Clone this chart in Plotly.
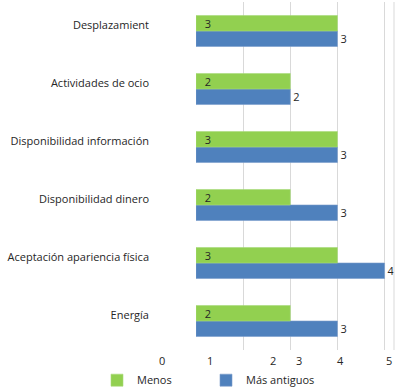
import plotly.graph_objects as go

categories = ["Desplazamient", "Actividades de ocio", "Disponibilidad información",
              "Disponibilidad dinero", "Aceptación apariencia física", "Energía"]
menos = [3, 2, 3, 2, 3, 2]
mas_antiguos = [3, 2, 3, 3, 4, 3]
xtick_labels = ["0", "1", "2", "3", "4", "5"]

# layout-only: where the (misaligned) axis labels sit, in axis units
xtick_label_pos = [-0.83, 0.19, 1.64, 2.19, 3.19, 4.19]
XMAX = 4.2

GREEN = "#92D050"
BLUE = "#4F81BD"
FONT = "Open Sans"
TXT = "#262626"

fig = go.Figure()
fig.add_trace(go.Bar(
    y=categories, x=mas_antiguos, name="Más antiguos", orientation="h",
    marker=dict(color=BLUE, line=dict(color="#7A9CCB", width=0.6)),
    text=mas_antiguos, textposition="outside", constraintext="none", textangle=0,
    textfont=dict(family=FONT, size=11, color=TXT), cliponaxis=False,
))
fig.add_trace(go.Bar(
    y=categories, x=menos, name="Menos", orientation="h",
    marker=dict(color=GREEN, line=dict(color="#A8DA78", width=0.6)),
    text=menos, texttemplate="\u00a0\u00a0%{x}", textposition="inside",
    insidetextanchor="start", constraintext="none",
    textangle=0, textfont=dict(family=FONT, size=11, color=TXT),
))

for lab, pos in zip(xtick_labels, xtick_label_pos):
    fig.add_annotation(x=pos / XMAX, y=0, xref="paper", yref="paper", text=lab,
                       showarrow=False, yanchor="top", yshift=-1,
                       font=dict(family=FONT, size=11, color=TXT))

fig.add_shape(type="line", xref="x domain", yref="y domain", x0=1, x1=1, y0=0, y1=1,
              line=dict(color="#D9D9D9", width=1))

fig.update_layout(
    width=409, height=390,
    margin=dict(l=196, r=15, t=2, b=40, autoexpand=False),
    paper_bgcolor="white", plot_bgcolor="white",
    barmode="group", bargap=0.465, bargroupgap=0,
    font=dict(family=FONT, size=11, color=TXT),
    xaxis=dict(range=[0, XMAX], tickvals=[0, 1, 2, 3, 4], showticklabels=False,
               showgrid=True, gridcolor="#D9D9D9", gridwidth=1, zeroline=False,
               showline=False, fixedrange=True),
    yaxis=dict(categoryorder="array", categoryarray=categories[::-1],
               showgrid=False, zeroline=False, showline=False, automargin=False,
               ticklabelstandoff=46, ticklabelshift=-6,
               tickfont=dict(family=FONT, size=11, color=TXT)),
    legend=dict(orientation="h", traceorder="reversed",
                x=-0.5, xanchor="left", y=-0.045, yanchor="top",
                entrywidth=64, font=dict(family=FONT, size=11, color=TXT)),
)

fig.write_html("out.html", config={"displayModeBar": False},
               post_script="document.body.style.margin='0';document.body.style.overflow='hidden';")
